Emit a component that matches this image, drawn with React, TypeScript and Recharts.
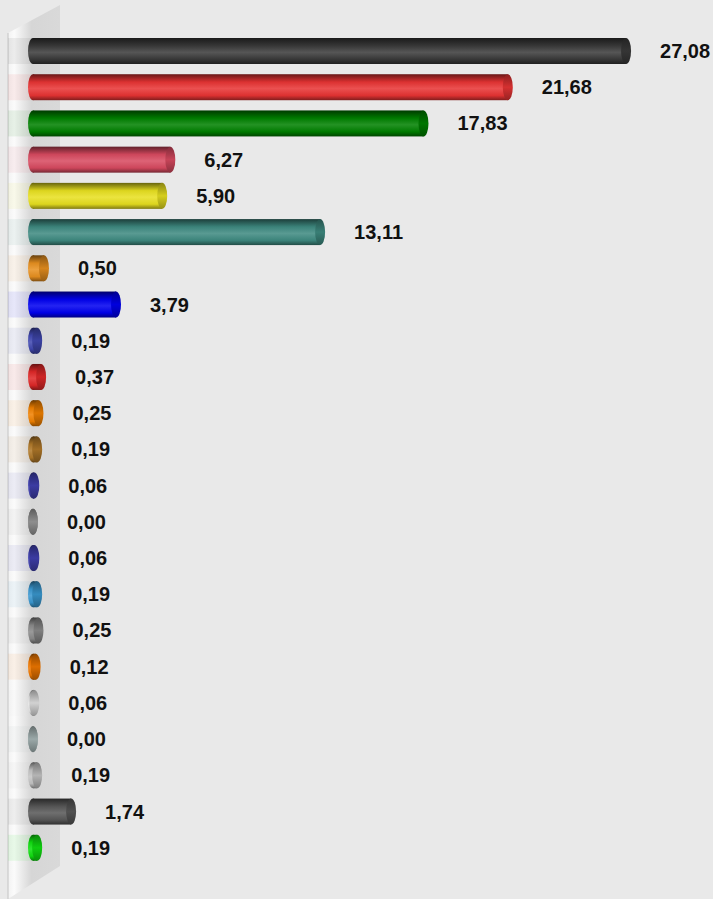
import React from "react";
import { Bar, BarChart, Customized, LabelList, XAxis, YAxis } from "recharts";

// one row per bar, top to bottom
const categories = [
  "A", "B", "C", "D", "E", "F", "G", "H", "I", "J", "K", "L",
  "M", "N", "O", "P", "Q", "R", "S", "T", "U", "V", "W",
];
const shares = [
  27.08, 21.68, 17.83, 6.27, 5.9, 13.11, 0.5, 3.79, 0.19, 0.37, 0.25, 0.19,
  0.06, 0.0, 0.06, 0.19, 0.25, 0.12, 0.06, 0.0, 0.19, 1.74, 0.19,
];
const barColors = [
  "#3a3a3a", "#e83434", "#008000", "#d84a60", "#e8e020", "#3e8a80", "#e89020", "#0000f0",
  "#4048b0", "#e02828", "#f08000", "#b07828", "#4040b0", "#9a9a9a", "#4040b0", "#3a98d0",
  "#8a8a8a", "#f07800", "#e4e4e4", "#a8b8b8", "#c4c4c4", "#585858", "#10e010",
];

const data = categories.map((name, i) => ({ name, value: shares[i] }));

const font = "'Liberation Sans', Arial, sans-serif";

// mix a hex colour toward black (f < 0) or white (f > 0)
function shade(hex: string, f: number) {
  const n = parseInt(hex.slice(1), 16);
  const ch = [(n >> 16) & 255, (n >> 8) & 255, n & 255].map((v) =>
    Math.round(f < 0 ? v * (1 + f) : v + (255 - v) * f)
  );
  return `rgb(${ch[0]},${ch[1]},${ch[2]})`;
}

const Cylinder = (props: any) => {
  const { x, y, width, height, index } = props;
  const c = barColors[index % barColors.length];
  const id = `cyl-${index}`;
  const cy = y + height / 2;
  const ry = height / 2;
  const rx = 5;
  const w = Math.max(width, 0);
  return (
    <g>
      <defs>
        <linearGradient id={id} x1="0" y1="0" x2="0" y2="1">
          <stop offset="0%" stopColor={shade(c, -0.55)} />
          <stop offset="30%" stopColor={shade(c, -0.05)} />
          <stop offset="55%" stopColor={shade(c, 0.14)} />
          <stop offset="82%" stopColor={shade(c, -0.05)} />
          <stop offset="100%" stopColor={shade(c, -0.45)} />
        </linearGradient>
        <linearGradient id={`${id}-cap`} x1="0" y1="0" x2="0" y2="1">
          <stop offset="0%" stopColor={shade(c, -0.4)} />
          <stop offset="50%" stopColor={shade(c, -0.08)} />
          <stop offset="100%" stopColor={shade(c, -0.35)} />
        </linearGradient>
      </defs>
      <rect x={8} y={y} width={x - 8} height={height} fill={c} opacity={0.08} />
      <ellipse cx={x} cy={cy} rx={rx} ry={ry} fill={`url(#${id})`} />
      <rect x={x} y={y} width={w} height={height} fill={`url(#${id})`} />
      <ellipse cx={x + w} cy={cy} rx={rx} ry={ry} fill={`url(#${id}-cap)`} />
    </g>
  );
};

const ValueLabel = (props: any) => {
  const { x, y, width, height, value } = props;
  return (
    <text
      x={x + Math.max(width, 0) + 34}
      y={y + height / 2}
      dominantBaseline="central"
      fontFamily={font}
      fontWeight="bold"
      fontSize={20}
      fill="#111"
    >
      {Number(value).toFixed(2).replace(".", ",")}
    </text>
  );
};

// the grey back wall on the left
const Wall = () => (
  <g>
    <defs>
      <linearGradient id="wall" x1="0" y1="0" x2="1" y2="0">
        <stop offset="0%" stopColor="#f2f2f2" />
        <stop offset="12%" stopColor="#fbfbfb" />
        <stop offset="45%" stopColor="#d6d6d6" />
        <stop offset="100%" stopColor="#d9d9d9" />
      </linearGradient>
    </defs>
    <polygon points="8,33 60,5 60,866 8,899" fill="url(#wall)" />
    <line x1={8} y1={33} x2={8} y2={899} stroke="#c4c4c4" strokeWidth={1} />
  </g>
);

export default function App() {
  return (
    <div style={{ position: "fixed", left: 0, top: 0, width: 713, height: 899, background: "#e9e9e9" }}>
      <BarChart
        width={713}
        height={899}
        data={data}
        layout="vertical"
        margin={{ top: 33, right: 23, bottom: 33, left: 33 }}
      >
        <Customized component={Wall} />
        <XAxis type="number" domain={[0, 30]} hide />
        <YAxis type="category" dataKey="name" hide />
        <Bar dataKey="value" barSize={26} shape={<Cylinder />} isAnimationActive={false}>
          <LabelList dataKey="value" content={<ValueLabel />} />
        </Bar>
      </BarChart>
    </div>
  );
}
